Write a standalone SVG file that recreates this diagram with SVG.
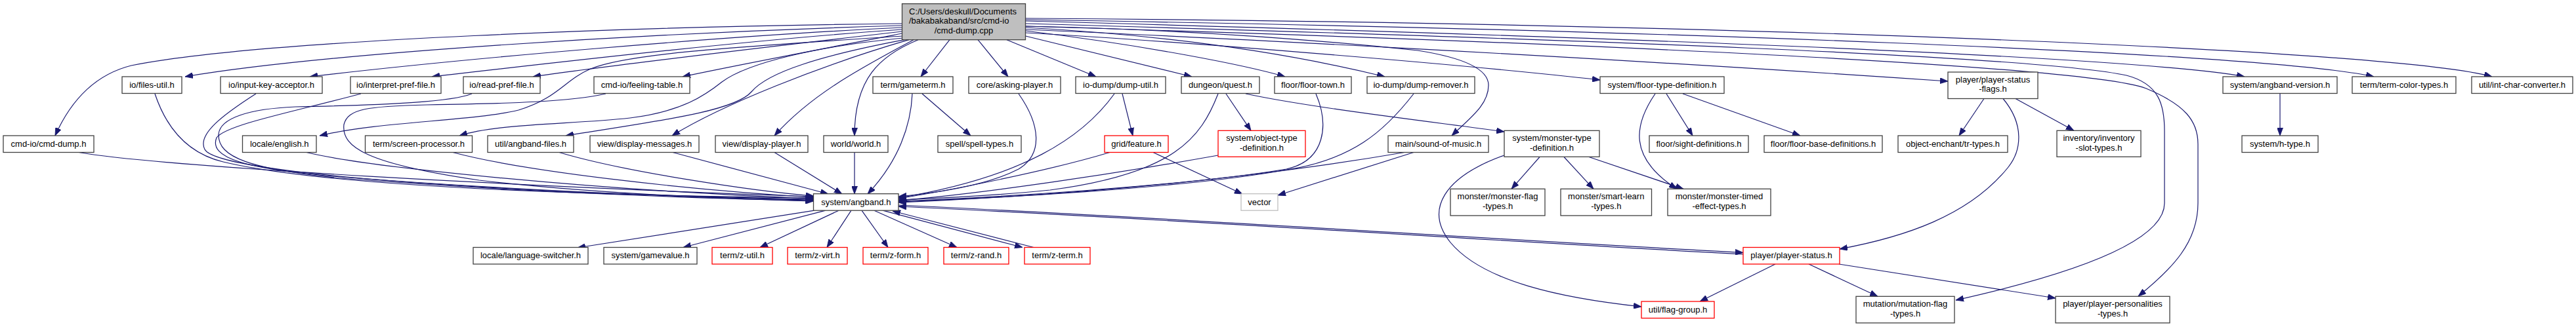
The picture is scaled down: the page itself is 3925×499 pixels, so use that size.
<svg xmlns="http://www.w3.org/2000/svg" width="3925" height="499" viewBox="0 0 3925 499">
<style>
.node rect{fill:#fff;stroke:#404040;stroke-width:1.3}
.node.red rect{stroke:#ff0000}
.node.grey rect{stroke:#bfbfbf}
.node.root rect{fill:#bfbfbf}
.node text{font-family:"Liberation Sans",Arial,sans-serif;font-size:13px;text-anchor:middle;fill:#000}
.node text.l{text-anchor:start}
.edges path{fill:none;stroke:#191970;stroke-width:1.2;marker-end:url(#a)}
</style>
<defs>
<marker id="a" markerWidth="13" markerHeight="9" refX="12" refY="4.5" orient="auto" markerUnits="userSpaceOnUse">
<path d="M0,0 L12,4.5 L0,9 z" fill="#191970" stroke="#191970" stroke-width="0.8"/>
</marker>
</defs>
<rect x="0" y="0" width="3925" height="499" fill="#fff"/>
<g class="edges">
<path d="M1374.5,36 C1000,40 400,60 200,100 C140,115 105,160 84,207"/>
<path d="M1374.5,39 C1000,50 500,80 282,117"/>
<path d="M1374.5,42 C1100,55 700,90 472,117"/>
<path d="M1374.5,45 C1150,60 850,95 658,117"/>
<path d="M1374.5,48 C1200,68 950,97 812,117"/>
<path d="M1374.5,51 C1250,75 1120,100 1040,117"/>
<path d="M1375,55 C1150,70 960,80 900,105 C860,122 850,150 790,168 C720,185 580,185 487,207"/>
<path d="M1376,58 C1250,70 1140,95 1100,125 C1075,145 1040,170 960,180 C870,190 760,188 700,207"/>
<path d="M1378,60.7 C1250,85 1170,110 1145,140 C1120,170 1000,185 862,207"/>
<path d="M1385,60.7 C1250,100 1100,160 1024,207"/>
<path d="M1392,60.7 C1320,100 1240,140 1180,207"/>
<path d="M1399,60.7 C1340,85 1302,120 1302,207"/>
<path d="M1447,60.7 L1403,117"/>
<path d="M1490,60.7 L1536,117"/>
<path d="M1534,60.7 L1670,117"/>
<path d="M1562.6,55 L1816,117"/>
<path d="M1562.6,47 C1750,70 1900,100 1958,117"/>
<path d="M1562.6,42 C1800,55 1980,85 2110,117"/>
<path d="M1562.6,40 C1800,45 2000,60 2160,77 C2230,88 2268,105 2268,130 C2268,160 2240,180 2212,207"/>
<path d="M1562.6,50 C1750,60 2200,95 2438,122"/>
<path d="M1562.6,45 C1800,55 2400,85 2968,124"/>
<path d="M1562.6,32 C2400,55 3250,85 3420,117"/>
<path d="M1562.6,30 C2500,45 3450,80 3617,117"/>
<path d="M1562.6,28 C2600,35 3650,75 3797,117"/>
<path d="M1562.6,36 C2400,60 3100,85 3240,115 C3290,128 3298,160 3298,200 L3298,310 C3298,370 3150,420 2980,458"/>
<path d="M1562.6,40 C2400,65 3180,100 3270,135 C3330,160 3349,185 3349,220 L3349,310 C3349,370 3310,410 3258,452"/>
<path d="M120,232.5 C250,255 800,285 1239.5,300"/>
<path d="M236,143 C255,200 290,235 340,247 C500,285 900,298 1239.5,302"/>
<path d="M390,143 C340,175 300,205 312,228 C330,262 700,293 1239.5,304"/>
<path d="M550,143 C450,170 345,190 330,210 C318,240 370,258 520,270 C800,292 1100,303 1239.5,305"/>
<path d="M719,143 C690,155 600,160 450,163 C380,166 335,180 333,205 C332,240 380,258 520,272 C800,294 1100,304 1239.5,306"/>
<path d="M923,143 C870,155 780,158 650,160 C560,162 530,166 524,190 C520,225 560,250 730,275 C900,295 1100,303 1239.5,307"/>
<path d="M467,232.5 C560,255 900,290 1239.5,303"/>
<path d="M690,232.5 C800,262 1050,290 1239.5,301"/>
<path d="M852,232.5 C950,262 1150,292 1239.5,299"/>
<path d="M1025,232.5 L1262,296"/>
<path d="M1180,232.5 L1283,296"/>
<path d="M1302,232.5 L1302,296"/>
<path d="M1390,143 C1388,190 1370,245 1322,296"/>
<path d="M1552,143 C1585,190 1590,235 1552,258 C1500,285 1420,295 1369,300"/>
<path d="M1698,143 C1650,210 1560,270 1369,302"/>
<path d="M1691,232.5 C1600,260 1450,290 1369,303"/>
<path d="M1856,143 C1830,210 1790,265 1600,290 C1500,300 1420,303 1369,305"/>
<path d="M1856,237 C1700,265 1500,295 1369,306"/>
<path d="M2005,143 C2025,190 2020,245 1960,258 C1800,285 1500,302 1369,307"/>
<path d="M2154,143 C2110,200 2060,245 1955,260 C1800,288 1500,303 1369,308"/>
<path d="M2140,232.5 C2050,248 1800,290 1369,309"/>
<path d="M2656,388 C2300,369 1800,335 1369,315"/>
<path d="M1241,321.2 L880,378"/>
<path d="M1258,321.2 L1041,377.5"/>
<path d="M1278,321.2 L1158,377.5"/>
<path d="M1297,321.2 L1260,377.5"/>
<path d="M1313,321.2 L1353,377.5"/>
<path d="M1332,321.2 L1458,377.5"/>
<path d="M1345,321.2 L1558,377.5"/>
<path d="M1575,377.5 L1360,322"/>
<path d="M1369,313 C1800,333 2300,367 2656,385.5"/>
<path d="M1405,143 L1479,207"/>
<path d="M1710,143 L1726,207"/>
<path d="M1757,232.5 L1893,296"/>
<path d="M1868,143 L1906,199.3"/>
<path d="M1898,143 C2000,165 2200,188 2292,201"/>
<path d="M2154,232.5 L1947,298"/>
<path d="M2292,237 C2200,270 2170,320 2210,370 C2260,430 2380,455 2501,468"/>
<path d="M2346,239.5 L2303,288.3"/>
<path d="M2383,239.5 L2428,288.3"/>
<path d="M2421,239.5 L2565,288.3"/>
<path d="M2539,143 L2579,207"/>
<path d="M2564,143 L2743,207"/>
<path d="M2522,143 C2490,190 2480,240 2555,288.3"/>
<path d="M3023,150.5 L2985,207"/>
<path d="M3071,150.5 L3160,199.3"/>
<path d="M3052,150.5 C3085,190 3080,230 3060,255 C3000,330 2900,362 2803,380"/>
<path d="M2705,403 L2590,460"/>
<path d="M2756,403 L2861,452.3"/>
<path d="M2802,403 L3132,455"/>
<path d="M3474,143 L3474,207"/>
</g>
<g id="n_root" class="node root"><rect x="1374.5" y="5.7" width="188" height="55"/><text class="l" x="1385" y="21.5">C:/Users/deskull/Documents</text><text class="l" x="1385" y="36">/bakabakaband/src/cmd-io</text><text x="1468.5" y="50.5">/cmd-dump.cpp</text></g>
<g id="n_files_util" class="node"><rect x="186" y="117" width="91" height="25.5"/><text x="231.5" y="133.8">io/files-util.h</text></g>
<g id="n_input_key" class="node"><rect x="336" y="117" width="155" height="25.5"/><text x="413.5" y="133.8">io/input-key-acceptor.h</text></g>
<g id="n_interpret_pref" class="node"><rect x="534" y="117" width="138" height="25.5"/><text x="603" y="133.8">io/interpret-pref-file.h</text></g>
<g id="n_read_pref" class="node"><rect x="706" y="117" width="117" height="25.5"/><text x="764.5" y="133.8">io/read-pref-file.h</text></g>
<g id="n_feeling" class="node"><rect x="905" y="117" width="146" height="25.5"/><text x="978" y="133.8">cmd-io/feeling-table.h</text></g>
<g id="n_gameterm" class="node"><rect x="1330" y="117" width="122" height="25.5"/><text x="1391" y="133.8">term/gameterm.h</text></g>
<g id="n_asking" class="node"><rect x="1476" y="117" width="140" height="25.5"/><text x="1546" y="133.8">core/asking-player.h</text></g>
<g id="n_dump_util" class="node"><rect x="1639" y="117" width="137" height="25.5"/><text x="1707.5" y="133.8">io-dump/dump-util.h</text></g>
<g id="n_quest" class="node"><rect x="1800" y="117" width="119" height="25.5"/><text x="1859.5" y="133.8">dungeon/quest.h</text></g>
<g id="n_floor_town" class="node"><rect x="1942" y="117" width="117" height="25.5"/><text x="2000.5" y="133.8">floor/floor-town.h</text></g>
<g id="n_dump_remover" class="node"><rect x="2083" y="117" width="164" height="25.5"/><text x="2165" y="133.8">io-dump/dump-remover.h</text></g>
<g id="n_floor_type_def" class="node"><rect x="2438" y="117" width="189" height="25.5"/><text x="2532.5" y="133.8">system/floor-type-definition.h</text></g>
<g id="n_player_status_flags" class="node"><rect x="2968" y="110" width="137" height="40.5"/><text x="3036.5" y="125.5">player/player-status</text><text x="3036.5" y="140">-flags.h</text></g>
<g id="n_angband_version" class="node"><rect x="3387" y="117" width="174" height="25.5"/><text x="3474" y="133.8">system/angband-version.h</text></g>
<g id="n_term_color" class="node"><rect x="3584" y="117" width="158" height="25.5"/><text x="3663" y="133.8">term/term-color-types.h</text></g>
<g id="n_int_char" class="node"><rect x="3766" y="117" width="154" height="25.5"/><text x="3843" y="133.8">util/int-char-converter.h</text></g>
<g id="n_cmd_dump_h" class="node"><rect x="5" y="207" width="138" height="25.5"/><text x="74" y="223.8">cmd-io/cmd-dump.h</text></g>
<g id="n_english" class="node"><rect x="369.5" y="207" width="112.5" height="25.5"/><text x="425.75" y="223.8">locale/english.h</text></g>
<g id="n_screen_proc" class="node"><rect x="556.5" y="207" width="163" height="25.5"/><text x="638" y="223.8">term/screen-processor.h</text></g>
<g id="n_angband_files" class="node"><rect x="743" y="207" width="131" height="25.5"/><text x="808.5" y="223.8">util/angband-files.h</text></g>
<g id="n_display_messages" class="node"><rect x="899" y="207" width="166" height="25.5"/><text x="982" y="223.8">view/display-messages.h</text></g>
<g id="n_display_player" class="node"><rect x="1090" y="207" width="141" height="25.5"/><text x="1160.5" y="223.8">view/display-player.h</text></g>
<g id="n_world" class="node"><rect x="1255" y="207" width="98" height="25.5"/><text x="1304" y="223.8">world/world.h</text></g>
<g id="n_spell_types" class="node"><rect x="1429" y="207" width="127" height="25.5"/><text x="1492.5" y="223.8">spell/spell-types.h</text></g>
<g id="n_feature" class="node red"><rect x="1683" y="207" width="97" height="25.5"/><text x="1731.5" y="223.8">grid/feature.h</text></g>
<g id="n_object_type_def" class="node red"><rect x="1856" y="199.3" width="133" height="40"/><text x="1922.5" y="215">system/object-type</text><text x="1922.5" y="229.5">-definition.h</text></g>
<g id="n_sound_of_music" class="node"><rect x="2115" y="207" width="153" height="25.5"/><text x="2191.5" y="223.8">main/sound-of-music.h</text></g>
<g id="n_monster_type_def" class="node"><rect x="2292" y="199.3" width="145" height="40"/><text x="2364.5" y="215">system/monster-type</text><text x="2364.5" y="229.5">-definition.h</text></g>
<g id="n_sight_defs" class="node"><rect x="2513" y="207" width="151" height="25.5"/><text x="2588.5" y="223.8">floor/sight-definitions.h</text></g>
<g id="n_floor_base_defs" class="node"><rect x="2688" y="207" width="180" height="25.5"/><text x="2778" y="223.8">floor/floor-base-definitions.h</text></g>
<g id="n_tr_types" class="node"><rect x="2892" y="207" width="167" height="25.5"/><text x="2975.5" y="223.8">object-enchant/tr-types.h</text></g>
<g id="n_inventory_slot" class="node"><rect x="3134" y="199.3" width="128" height="40"/><text x="3198" y="215">inventory/inventory</text><text x="3198" y="229.5">-slot-types.h</text></g>
<g id="n_h_type" class="node"><rect x="3416" y="207" width="116" height="25.5"/><text x="3474" y="223.8">system/h-type.h</text></g>
<g id="n_angband_h" class="node"><rect x="1239.5" y="295.7" width="129.5" height="25.5"/><text x="1304.25" y="312.5">system/angband.h</text></g>
<g id="n_vector" class="node grey"><rect x="1891" y="295.7" width="56" height="25.5"/><text x="1919" y="312.5">vector</text></g>
<g id="n_monster_flag" class="node"><rect x="2210" y="288.3" width="144" height="40.7"/><text x="2282" y="304">monster/monster-flag</text><text x="2282" y="318.5">-types.h</text></g>
<g id="n_smart_learn" class="node"><rect x="2378" y="288.3" width="138.5" height="40.7"/><text x="2447.25" y="304">monster/smart-learn</text><text x="2447.25" y="318.5">-types.h</text></g>
<g id="n_monster_timed" class="node"><rect x="2541" y="288.3" width="157" height="40.7"/><text x="2619.5" y="304">monster/monster-timed</text><text x="2619.5" y="318.5">-effect-types.h</text></g>
<g id="n_language_switcher" class="node"><rect x="721" y="377.5" width="175" height="25.5"/><text x="808.5" y="394.3">locale/language-switcher.h</text></g>
<g id="n_gamevalue" class="node"><rect x="920" y="377.5" width="142" height="25.5"/><text x="991" y="394.3">system/gamevalue.h</text></g>
<g id="n_z_util" class="node red"><rect x="1085" y="377.5" width="92" height="25.5"/><text x="1131" y="394.3">term/z-util.h</text></g>
<g id="n_z_virt" class="node red"><rect x="1200" y="377.5" width="91" height="25.5"/><text x="1245.5" y="394.3">term/z-virt.h</text></g>
<g id="n_z_form" class="node red"><rect x="1315" y="377.5" width="99" height="25.5"/><text x="1364.5" y="394.3">term/z-form.h</text></g>
<g id="n_z_rand" class="node red"><rect x="1438" y="377.5" width="99" height="25.5"/><text x="1487.5" y="394.3">term/z-rand.h</text></g>
<g id="n_z_term" class="node red"><rect x="1561" y="377.5" width="100" height="25.5"/><text x="1611" y="394.3">term/z-term.h</text></g>
<g id="n_player_status" class="node red"><rect x="2656" y="377.5" width="147" height="25.5"/><text x="2729.5" y="394.3">player/player-status.h</text></g>
<g id="n_flag_group" class="node red"><rect x="2501" y="460" width="111" height="25.5"/><text x="2556.5" y="476.8">util/flag-group.h</text></g>
<g id="n_mutation" class="node"><rect x="2828" y="452.3" width="150" height="40.5"/><text x="2903" y="468">mutation/mutation-flag</text><text x="2903" y="482.5">-types.h</text></g>
<g id="n_personalities" class="node"><rect x="3132" y="452.3" width="174" height="40.5"/><text x="3219" y="468">player/player-personalities</text><text x="3219" y="482.5">-types.h</text></g>
</svg>
